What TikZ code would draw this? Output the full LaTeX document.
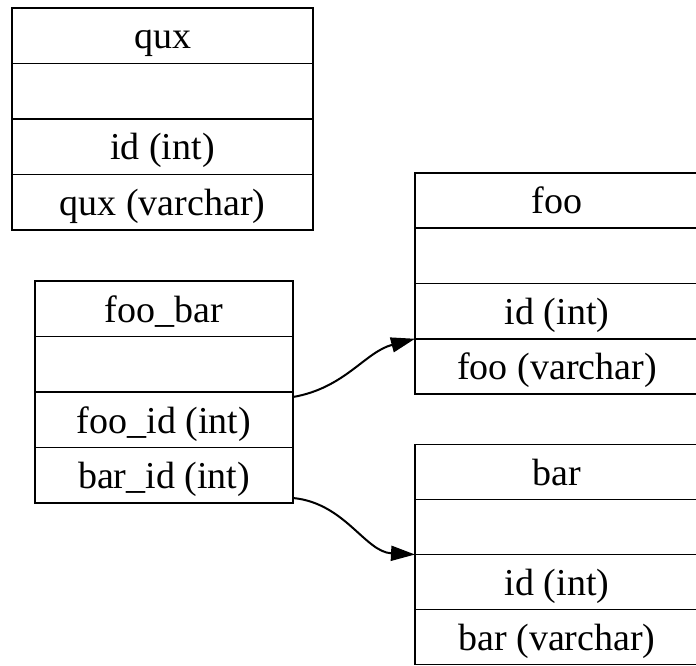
\documentclass[tikz,border=0pt]{standalone}
\usepackage{fontspec}
\setmainfont{Liberation Serif}
\usetikzlibrary{arrows.meta,calc}
\begin{document}
\begin{tikzpicture}[x=1pt,y=-1pt,
  row/.style={draw=black, line width=1.9pt, minimum height=55.5pt, inner sep=0pt, outer sep=0pt,
    text height=30pt, text depth=3.5pt, anchor=north west,
    font=\fontsize{38}{40}\selectfont},
  quxrow/.style={row, minimum width=301pt},
  fbrow/.style={row, minimum width=258pt},
  rrow/.style={row, minimum width=284pt, minimum height=55pt},
  link/.style={line width=2pt, -{Triangle[length=24pt,width=15pt]}}]
\useasboundingbox (0,0) rectangle (696,666);
% qux
\node[quxrow] (qh) at (12,8) {qux};
\node[quxrow] (qe) at (qh.south west) {};
\node[quxrow] (q1) at (qe.south west) {id (int)};
\node[quxrow] (q2) at (q1.south west) {qux (varchar)};
% foo_bar
\node[fbrow] (fbh) at (35,281) {foo\_bar};
\node[fbrow] (fbe) at (fbh.south west) {};
\node[fbrow] (fb1) at (fbe.south west) {foo\_id (int)};
\node[fbrow] (fb2) at (fb1.south west) {bar\_id (int)};
% foo
\node[rrow, minimum height=55.25pt] (fh) at (415,173) {foo};
\node[rrow, minimum height=55.25pt] (fe) at (fh.south west) {};
\node[rrow, minimum height=55.25pt] (f1) at (fe.south west) {id (int)};
\node[rrow, minimum height=55.25pt] (f2) at (f1.south west) {foo (varchar)};
% bar
\node[rrow] (bh) at (415,444.5) {bar};
\node[rrow] (be) at (bh.south west) {};
\node[rrow] (b1) at (be.south west) {id (int)};
\node[rrow] (b2) at (b1.south west) {bar (varchar)};
% links
\draw[link] ($(fb1.north east)+(0,5)$) .. controls (345,388) and (365,352) .. (f1.south west);
\draw[link] ($(fb2.south east)+(0,-5)$) .. controls (345,503) and (365,552) .. (be.south west);
\end{tikzpicture}
\end{document}
